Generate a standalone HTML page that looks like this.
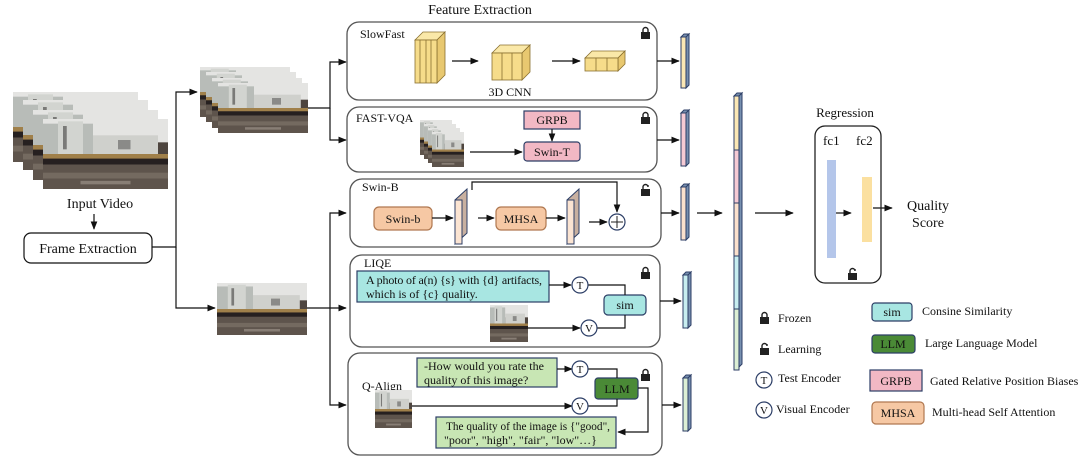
<!DOCTYPE html>
<html><head><meta charset="utf-8"><style>
html,body{margin:0;padding:0;background:#fff}
svg{display:block}
text{font-family:"Liberation Serif",serif;fill:#111}
</style></head><body>
<svg width="1080" height="463" viewBox="0 0 1080 463" xmlns="http://www.w3.org/2000/svg">
<defs>
<marker id="a" viewBox="0 0 10 10" refX="9" refY="5" markerWidth="7" markerHeight="7" orient="auto"><path d="M0,1 L10,5 L0,9z" fill="#111"/></marker>
<symbol id="ph" viewBox="0 0 100 60" preserveAspectRatio="none">
<rect width="100" height="60" fill="#4e453f"/>
<rect width="100" height="20" fill="#e4e4e2"/>
<rect x="0" y="4" width="40" height="26" fill="#b8bcb8"/>
<rect x="12" y="2" width="20" height="28" fill="#d2d4d0"/>
<rect x="16" y="6" width="3" height="20" fill="#7a7a78"/>
<rect x="40" y="14" width="52" height="16" fill="#cfd0cc"/>
<rect x="60" y="18" width="10" height="8" fill="#8a8a88"/>
<rect x="0" y="30" width="100" height="4" fill="#a0804a"/>
<rect x="0" y="34" width="100" height="5" fill="#262020"/>
<rect x="0" y="39" width="100" height="21" fill="#5e544c"/>
<rect x="0" y="46" width="100" height="5" fill="#7d736a" opacity=".7"/>
<rect x="30" y="53" width="40" height="3" fill="#9a9088" opacity=".7"/>
</symbol>
</defs>
<use href="#ph" x="13" y="92" width="125" height="70"/>
<use href="#ph" x="23" y="100" width="125" height="70"/>
<use href="#ph" x="33" y="110" width="125" height="70"/>
<use href="#ph" x="43" y="119" width="125" height="70"/>
<text x="100" y="208" font-size="14" text-anchor="middle">Input Video</text>
<g stroke="#111" stroke-width="1.2" fill="none">
<line x1="94" y1="214" x2="94" y2="229" marker-end="url(#a)"/>
<rect x="24" y="233" width="128" height="30" rx="7"/>
<path d="M152,247 H176 V92 H197" marker-end="url(#a)"/>
<path d="M176,247 V308 H215" marker-end="url(#a)"/>
<path d="M308,108 H330 V62 H346" marker-end="url(#a)"/>
<path d="M330,108 V140 H346" marker-end="url(#a)"/>
<path d="M307,308 H346" marker-end="url(#a)"/>
<path d="M330,308 V213 H346" marker-end="url(#a)"/>
<path d="M330,308 V405 H346" marker-end="url(#a)"/>
</g>
<text x="88" y="253" font-size="14" text-anchor="middle">Frame Extraction</text>
<use href="#ph" x="200" y="67" width="90" height="50"/>
<use href="#ph" x="206" y="72" width="90" height="50"/>
<use href="#ph" x="212" y="78" width="90" height="50"/>
<use href="#ph" x="218" y="83" width="90" height="50"/>
<use href="#ph" x="217" y="283" width="90" height="52"/>
<text x="480" y="14" font-size="14" text-anchor="middle">Feature Extraction</text>

<g stroke="#555" stroke-width="1.3" fill="#fff">
<rect x="347" y="22" width="310" height="78" rx="12"/>
<rect x="347" y="107" width="310" height="65" rx="12"/>
<rect x="350" y="179" width="311" height="68" rx="12"/>
<rect x="350" y="255" width="310" height="92" rx="12"/>
<rect x="348" y="353" width="314" height="102" rx="12"/>
</g>
<g font-size="12">
<text x="360" y="38">SlowFast</text>
<text x="356" y="122">FAST-VQA</text>
<text x="362" y="191">Swin-B</text>
<text x="364" y="267">LIQE</text>
<text x="362" y="390">Q-Align</text>
</g>
<g fill="#222">
<g transform="translate(641,27)"><rect x="0" y="5" width="9" height="7"/><path d="M2,5 V3 a2.5,2.5 0 0 1 5,0 V5" stroke="#222" stroke-width="1.4" fill="none"/></g>
<g transform="translate(641,112)"><rect x="0" y="5" width="9" height="7"/><path d="M2,5 V3 a2.5,2.5 0 0 1 5,0 V5" stroke="#222" stroke-width="1.4" fill="none"/></g>
<g transform="translate(641,184)"><rect x="0" y="5" width="9" height="7"/><path d="M2,5 V3 a2.5,2.5 0 0 1 5,0 V1" stroke="#222" stroke-width="1.4" fill="none"/></g>
<g transform="translate(641,267)"><rect x="0" y="5" width="9" height="7"/><path d="M2,5 V3 a2.5,2.5 0 0 1 5,0 V5" stroke="#222" stroke-width="1.4" fill="none"/></g>
<g transform="translate(641,369)"><rect x="0" y="5" width="9" height="7"/><path d="M2,5 V3 a2.5,2.5 0 0 1 5,0 V5" stroke="#222" stroke-width="1.4" fill="none"/></g>
<g transform="translate(848,268)"><rect x="0" y="5" width="9" height="7"/><path d="M2,5 V3 a2.5,2.5 0 0 1 5,0 V1" stroke="#222" stroke-width="1.4" fill="none"/></g>
<g transform="translate(760,312)"><rect x="0" y="5" width="9" height="7"/><path d="M2,5 V3 a2.5,2.5 0 0 1 5,0 V5" stroke="#222" stroke-width="1.4" fill="none"/></g>
<g transform="translate(760,343)"><rect x="0" y="5" width="9" height="7"/><path d="M2,5 V3 a2.5,2.5 0 0 1 5,0 V1" stroke="#222" stroke-width="1.4" fill="none"/></g>
</g>

<g stroke="#8a7030" stroke-width="0.8">
<g fill="#f6dc8a">
<path d="M415,40 l8,-8 h22 l-8,8z" fill="#fae8a8"/>
<path d="M437,40 l8,-8 v43 l-8,8z" fill="#e8c870"/>
<rect x="415" y="40" width="22" height="43"/>
<line x1="420" y1="40" x2="420" y2="83"/><line x1="426" y1="40" x2="426" y2="83"/><line x1="431" y1="40" x2="431" y2="83"/>
<path d="M492,53 l8,-8 h30 l-8,8z" fill="#fae8a8"/>
<path d="M522,53 l8,-8 v27 l-8,8z" fill="#e8c870"/>
<rect x="492" y="53" width="30" height="27"/>
<line x1="502" y1="53" x2="502" y2="80"/><line x1="512" y1="53" x2="512" y2="80"/>
<path d="M585,58 l7,-7 h33 l-7,7z" fill="#fae8a8"/>
<path d="M618,58 l7,-7 v13 l-7,7z" fill="#e8c870"/>
<rect x="585" y="58" width="33" height="13"/>
<line x1="596" y1="58" x2="596" y2="71"/><line x1="607" y1="58" x2="607" y2="71"/>
</g></g>
<text x="510" y="96" font-size="12" text-anchor="middle">3D CNN</text>
<g stroke="#111" stroke-width="1.2" fill="none">
<line x1="452" y1="61" x2="478" y2="61" marker-end="url(#a)"/>
<line x1="552" y1="61" x2="580" y2="61" marker-end="url(#a)"/>
</g>

<use href="#ph" x="420" y="120" width="32" height="35"/>
<use href="#ph" x="424" y="124" width="32" height="35"/>
<use href="#ph" x="428" y="128" width="32" height="35"/>
<use href="#ph" x="432" y="132" width="32" height="35"/>
<rect x="524" y="111" width="56" height="18" fill="#f2b8c4" stroke="#2c3e66" stroke-width="1.2"/>
<text x="552" y="124" font-size="12" text-anchor="middle">GRPB</text>
<rect x="524" y="142" width="56" height="19" rx="3" fill="#f2b8c4" stroke="#2c3e66" stroke-width="1.2"/>
<text x="552" y="156" font-size="12" text-anchor="middle">Swin-T</text>
<g stroke="#111" stroke-width="1.2" fill="none">
<line x1="552" y1="129" x2="552" y2="141" marker-end="url(#a)"/>
<line x1="470" y1="152" x2="522" y2="152" marker-end="url(#a)"/>
</g>

<rect x="374" y="207" width="58" height="23" rx="5" fill="#f6c8a4" stroke="#b07850" stroke-width="1.2"/>
<text x="403" y="223" font-size="12" text-anchor="middle">Swin-b</text>
<rect x="496" y="207" width="50" height="23" rx="5" fill="#f6c8a4" stroke="#b07850" stroke-width="1.2"/>
<text x="521" y="223" font-size="12" text-anchor="middle">MHSA</text>
<g stroke="#2c3e66" stroke-width="1">
<path d="M455,200 l12,-11 v44 l-12,11z" fill="#c8b0a0"/><rect x="455" y="200" width="7" height="44" fill="#fbe4d2"/>
<path d="M567,200 l12,-11 v44 l-12,11z" fill="#c8b0a0"/><rect x="567" y="200" width="7" height="44" fill="#fbe4d2"/>
</g>
<circle cx="617" cy="222" r="8" fill="#fff" stroke="#2c3e66" stroke-width="1.2"/>
<path d="M611,222 h12 M617,216 v12" stroke="#222"/>
<g stroke="#111" stroke-width="1.2" fill="none">
<line x1="432" y1="218" x2="453" y2="218" marker-end="url(#a)"/>
<line x1="478" y1="218" x2="494" y2="218" marker-end="url(#a)"/>
<line x1="546" y1="218" x2="565" y2="218" marker-end="url(#a)"/>
<line x1="589" y1="222" x2="607" y2="222" marker-end="url(#a)"/>
<path d="M472,190 V182 H617 V212" marker-end="url(#a)"/>
</g>

<rect x="357" y="271" width="192" height="31" fill="#a8e6e2" stroke="#2c3e66" stroke-width="1.2"/>
<text x="366" y="284" font-size="12" textLength="176">A photo of a(n) {s} with {d} artifacts,</text>
<text x="366" y="298" font-size="12">which is of {c} quality.</text>
<rect x="604" y="295" width="42" height="20" rx="4" fill="#a8e6e2" stroke="#2c3e66" stroke-width="1.2"/>
<text x="625" y="309" font-size="12" text-anchor="middle">sim</text>
<use href="#ph" x="490" y="305" width="38" height="37"/>
<g stroke="#111" stroke-width="1.2" fill="none">
<line x1="549" y1="285" x2="571" y2="285" marker-end="url(#a)"/>
<path d="M588,285 H625 V295"/>
<line x1="528" y1="328" x2="580" y2="328" marker-end="url(#a)"/>
<path d="M597,328 H625 V315"/>
</g>
<circle cx="580" cy="285" r="8" fill="#fff" stroke="#2c3e66" stroke-width="1.2"/>
<text x="580" y="289" font-size="11" text-anchor="middle">T</text>
<circle cx="589" cy="328" r="8" fill="#fff" stroke="#2c3e66" stroke-width="1.2"/>
<text x="589" y="332" font-size="11" text-anchor="middle">V</text>

<rect x="417" y="358" width="140" height="29" fill="#c8e6b4" stroke="#2c3e66" stroke-width="1.2"/>
<text x="424" y="370" font-size="12">-How would you rate the</text>
<text x="424" y="384" font-size="12">quality of this image?</text>
<rect x="595" y="378" width="43" height="21" rx="3" fill="#4a8a36" stroke="#2c3e66" stroke-width="1.2"/>
<text x="617" y="393" font-size="12" text-anchor="middle">LLM</text>
<rect x="436" y="417" width="180" height="31" fill="#c8e6b4" stroke="#2c3e66" stroke-width="1.2"/>
<text x="446" y="430" font-size="12" textLength="164" lengthAdjust="spacingAndGlyphs">The quality of the image is {"good",</text>
<text x="444" y="444" font-size="12">"poor", "high", "fair", "low"…}</text>
<use href="#ph" x="375" y="390" width="37" height="38"/>
<g stroke="#111" stroke-width="1.2" fill="none">
<line x1="557" y1="369" x2="572" y2="369" marker-end="url(#a)"/>
<path d="M588,369 H617 V378"/>
<line x1="412" y1="406" x2="572" y2="406" marker-end="url(#a)"/>
<path d="M588,406 H617 V399"/>
<path d="M638,388 H648 V432 H618" marker-end="url(#a)"/>
</g>
<circle cx="580" cy="369" r="8" fill="#fff" stroke="#2c3e66" stroke-width="1.2"/>
<text x="580" y="373" font-size="11" text-anchor="middle">T</text>
<circle cx="580" cy="406" r="8" fill="#fff" stroke="#2c3e66" stroke-width="1.2"/>
<text x="580" y="410" font-size="11" text-anchor="middle">V</text>

<g stroke="#111" stroke-width="1.2" fill="none">
<line x1="657" y1="61" x2="679" y2="61" marker-end="url(#a)"/>
<line x1="657" y1="140" x2="679" y2="140" marker-end="url(#a)"/>
<line x1="661" y1="213" x2="679" y2="213" marker-end="url(#a)"/>
<line x1="660" y1="301" x2="681" y2="301" marker-end="url(#a)"/>
<line x1="662" y1="405" x2="681" y2="405" marker-end="url(#a)"/>
<line x1="697" y1="213" x2="722" y2="213" marker-end="url(#a)"/>
<line x1="755" y1="213" x2="793" y2="213" marker-end="url(#a)"/>
<line x1="836" y1="213" x2="851" y2="213" marker-end="url(#a)"/>
<line x1="873" y1="208" x2="892" y2="208" marker-end="url(#a)"/>
</g>
<g stroke="#2c3e66" stroke-width="1">
<path d="M681,37 l3,-3 h5 l-3,3z M686,37 l3,-3 v51 l-3,3z" fill="#7890b0"/><rect x="681" y="37" width="5" height="51" fill="#fbe7b4"/>
<path d="M681,113 l3,-3 h5 l-3,3z M686,113 l3,-3 v53 l-3,3z" fill="#7890b0"/><rect x="681" y="113" width="5" height="53" fill="#f6cad4"/>
<path d="M681,187 l3,-3 h5 l-3,3z M686,187 l3,-3 v53 l-3,3z" fill="#7890b0"/><rect x="681" y="187" width="5" height="53" fill="#fbe0cc"/>
<path d="M683,275 l3,-3 h5 l-3,3z M688,275 l3,-3 v53 l-3,3z" fill="#7890b0"/><rect x="683" y="275" width="5" height="53" fill="#c8eef0"/>
<path d="M683,378 l3,-3 h5 l-3,3z M688,378 l3,-3 v53 l-3,3z" fill="#7890b0"/><rect x="683" y="378" width="5" height="53" fill="#dcefd4"/>
<path d="M734,96 l3,-3 h5 l-3,3z M739,96 l3,-3 v271 l-3,3z" fill="#7890b0"/>
<rect x="734" y="96" width="5" height="54" fill="#fbe7b4"/>
<rect x="734" y="150" width="5" height="53" fill="#f6cad4"/>
<rect x="734" y="203" width="5" height="53" fill="#fbe0cc"/>
<rect x="734" y="256" width="5" height="53" fill="#c8eef0"/>
<rect x="734" y="309" width="5" height="61" fill="#dcefd4"/>
</g>

<text x="845" y="117" font-size="13" text-anchor="middle">Regression</text>
<rect x="815" y="126" width="66" height="157" rx="10" fill="none" stroke="#222" stroke-width="1.3"/>
<text x="823" y="145" font-size="13">fc1</text>
<text x="856" y="145" font-size="13">fc2</text>
<rect x="827" y="160" width="9" height="98" fill="#b4c6ea"/>
<rect x="862" y="177" width="10" height="65" fill="#fbe0a0"/>
<text x="928" y="210" font-size="14" text-anchor="middle">Quality</text>
<text x="928" y="227" font-size="14" text-anchor="middle">Score</text>

<g font-size="12">
<text x="778" y="322">Frozen</text>
<text x="778" y="353">Learning</text>
<circle cx="764" cy="380" r="8" fill="#fff" stroke="#2c3e66" stroke-width="1.2"/>
<text x="764" y="384" font-size="11" text-anchor="middle">T</text>
<text x="778" y="382">Test Encoder</text>
<circle cx="764" cy="410" r="8" fill="#fff" stroke="#2c3e66" stroke-width="1.2"/>
<text x="764" y="414" font-size="11" text-anchor="middle">V</text>
<text x="776" y="413">Visual Encoder</text>
<rect x="872" y="303" width="40" height="18" rx="3" fill="#a8e6e2" stroke="#2c3e66" stroke-width="1.2"/>
<text x="892" y="316" text-anchor="middle">sim</text>
<text x="922" y="315">Consine Similarity</text>
<rect x="872" y="335" width="43" height="18" rx="3" fill="#4a8a36" stroke="#2c3e66" stroke-width="1.2"/>
<text x="893" y="348" text-anchor="middle">LLM</text>
<text x="925" y="347">Large Language Model</text>
<rect x="870" y="370" width="52" height="21" fill="#f2b8c4" stroke="#2c3e66" stroke-width="1.2"/>
<text x="896" y="385" text-anchor="middle">GRPB</text>
<text x="930" y="385">Gated Relative Position Biases</text>
<rect x="872" y="402" width="52" height="22" rx="4" fill="#f6c8a4" stroke="#b07850" stroke-width="1.2"/>
<text x="898" y="417" text-anchor="middle">MHSA</text>
<text x="932" y="416">Multi-head Self Attention</text>
</g>
</svg>
</body></html>
